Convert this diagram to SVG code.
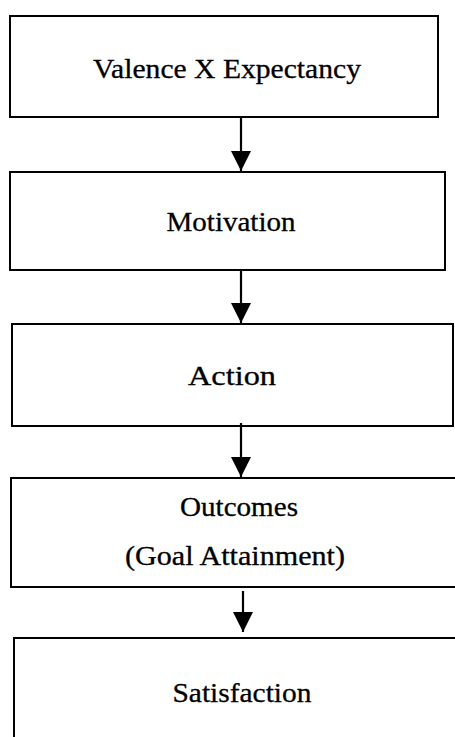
<svg xmlns="http://www.w3.org/2000/svg" width="455" height="737" viewBox="0 0 455 737">
<defs>
<style>
.box{fill:#fff;stroke:#000;stroke-width:2}
.lbl{font-family:"Liberation Serif","Times New Roman",serif;font-size:27px;fill:#000;stroke:#000;stroke-width:0.3;text-anchor:middle}
.edge{stroke:#000;stroke-width:2.2;fill:none}
</style>
<marker id="ah" viewBox="0 0 20 20" refX="20" refY="10" markerWidth="20" markerHeight="20" markerUnits="userSpaceOnUse" orient="auto">
<path d="M0,0 L20,10 L0,20 Z" fill="#000"/>
</marker>
</defs>
<rect width="455" height="737" fill="#fff"/>
<g id="node-valence">
<rect class="box" x="10" y="16" width="428" height="101"/>
<text class="lbl" x="227" y="78" textLength="268" lengthAdjust="spacingAndGlyphs">Valence X Expectancy</text>
</g>
<g id="node-motivation">
<rect class="box" x="10" y="172" width="435" height="98"/>
<text class="lbl" x="231" y="231" textLength="129" lengthAdjust="spacingAndGlyphs">Motivation</text>
</g>
<g id="node-action">
<rect class="box" x="12" y="324" width="441" height="102"/>
<text class="lbl" x="232" y="385" textLength="88" lengthAdjust="spacingAndGlyphs">Action</text>
</g>
<g id="node-outcomes">
<rect class="box" x="11" y="478" width="460" height="109"/>
<text class="lbl" x="239" y="516" textLength="118" lengthAdjust="spacingAndGlyphs">Outcomes</text>
<text class="lbl" x="235" y="565" textLength="220" lengthAdjust="spacingAndGlyphs">(Goal Attainment)</text>
</g>
<g id="node-satisfaction">
<rect class="box" x="14" y="638" width="460" height="120"/>
<text class="lbl" x="242" y="702" textLength="139" lengthAdjust="spacingAndGlyphs">Satisfaction</text>
</g>
<g id="connectors">
<line class="edge" x1="241" y1="117" x2="241" y2="171" marker-end="url(#ah)"/>
<line class="edge" x1="241" y1="270" x2="241" y2="323" marker-end="url(#ah)"/>
<line class="edge" x1="241" y1="423" x2="241" y2="477" marker-end="url(#ah)"/>
<line class="edge" x1="243" y1="591" x2="243" y2="632" marker-end="url(#ah)"/>
</g>
</svg>
